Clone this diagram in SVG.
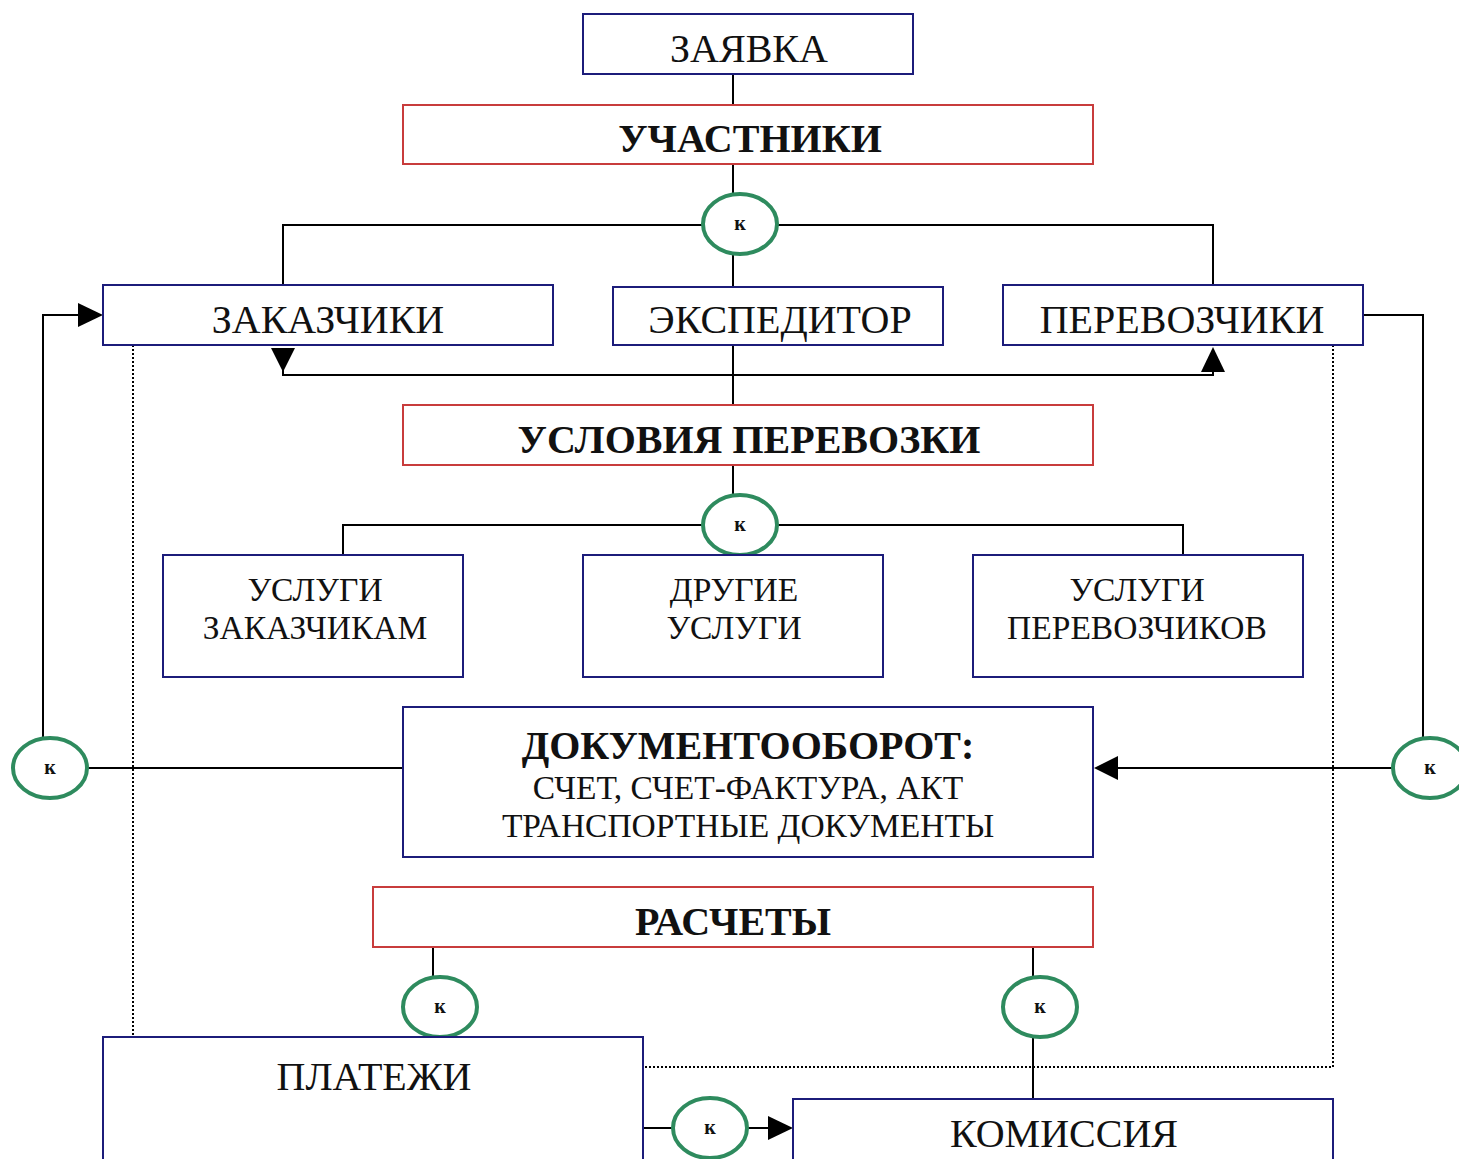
<svg xmlns="http://www.w3.org/2000/svg" width="1459" height="1159" viewBox="0 0 1459 1159">
<style>
.b{fill:#fff;stroke:#1c1c7a;stroke-width:2}
.r{fill:#fff;stroke:#c83c3c;stroke-width:2}
.c{fill:#fff;stroke:#2e8b5e;stroke-width:4}
.l{fill:none;stroke:#000;stroke-width:2}
.d{fill:none;stroke:#000;stroke-width:2;stroke-dasharray:2 2}
.t{font-family:"Liberation Serif",serif;font-size:40px;fill:#111;text-anchor:middle}
.tb{font-family:"Liberation Serif",serif;font-size:40px;font-weight:bold;fill:#111;text-anchor:middle}
.ts{font-family:"Liberation Serif",serif;font-size:33.5px;fill:#111;text-anchor:middle}
.k{font-family:"Liberation Serif",serif;font-size:20px;font-weight:bold;fill:#111;text-anchor:middle}
.a{fill:#000}
</style>
<rect width="1459" height="1159" fill="#fff"/>
<g id="connectors">
<line class="l" x1="733" y1="74" x2="733" y2="105"/>
<line class="l" x1="733" y1="164" x2="733" y2="200"/>
<polyline class="l" points="283,285 283,225 1213,225 1213,285"/>
<line class="l" x1="733" y1="250" x2="733" y2="287"/>
<polyline class="l" points="283,348 283,375 1213,375 1213,350"/>
<polygon class="a" points="271,348 295,348 283,372"/>
<polygon class="a" points="1201,372 1225,372 1213,347"/>
<line class="l" x1="733" y1="345" x2="733" y2="405"/>
<line class="l" x1="733" y1="465" x2="733" y2="500"/>
<polyline class="l" points="343,555 343,525 1183,525 1183,555"/>
<polyline class="l" points="43,738 43,315 78,315"/>
<polygon class="a" points="78,303 103,315 78,327"/>
<line class="l" x1="88" y1="768" x2="403" y2="768"/>
<polyline class="l" points="1363,315 1423,315 1423,738"/>
<line class="l" x1="1392" y1="768" x2="1118" y2="768"/>
<polygon class="a" points="1118,756 1094,768 1118,780"/>
<line class="d" x1="133" y1="345" x2="133" y2="1037"/>
<polyline class="d" points="1333,345 1333,1067 643,1067"/>
<line class="l" x1="433" y1="947" x2="433" y2="977"/>
<line class="l" x1="1033" y1="947" x2="1033" y2="977"/>
<line class="l" x1="1033" y1="1037" x2="1033" y2="1099"/>
<line class="l" x1="643" y1="1128" x2="672" y2="1128"/>
<line class="l" x1="748" y1="1128" x2="770" y2="1128"/>
<polygon class="a" points="768,1116 793,1128 768,1140"/>
</g>
<g id="zayavka"><rect class="b" x="583" y="14" width="330" height="60"/><text class="t" x="749" y="62">ЗАЯВКА</text></g>
<g id="uchastniki"><rect class="r" x="403" y="105" width="690" height="59"/><text class="tb" x="750" y="152">УЧАСТНИКИ</text></g>
<g id="k1"><ellipse class="c" cx="740" cy="224" rx="37" ry="30"/><text class="k" x="740" y="230">к</text></g>
<g id="zakazchiki"><rect class="b" x="103" y="285" width="450" height="60"/><text class="t" x="328" y="333">ЗАКАЗЧИКИ</text></g>
<g id="ekspeditor"><rect class="b" x="613" y="287" width="330" height="58"/><text class="t" x="780" y="333">ЭКСПЕДИТОР</text></g>
<g id="perevozchiki"><rect class="b" x="1003" y="285" width="360" height="60"/><text class="t" x="1182" y="333">ПЕРЕВОЗЧИКИ</text></g>
<g id="usloviya"><rect class="r" x="403" y="405" width="690" height="60"/><text class="tb" x="749" y="453">УСЛОВИЯ ПЕРЕВОЗКИ</text></g>
<g id="k2"><ellipse class="c" cx="740" cy="525" rx="37" ry="30"/><text class="k" x="740" y="531">к</text></g>
<g id="uslugi-zak"><rect class="b" x="163" y="555" width="300" height="122"/><text class="ts" x="315" y="601">УСЛУГИ</text><text class="ts" x="315" y="639">ЗАКАЗЧИКАМ</text></g>
<g id="drugie"><rect class="b" x="583" y="555" width="300" height="122"/><text class="ts" x="734" y="601">ДРУГИЕ</text><text class="ts" x="734" y="639">УСЛУГИ</text></g>
<g id="uslugi-per"><rect class="b" x="973" y="555" width="330" height="122"/><text class="ts" x="1137" y="601">УСЛУГИ</text><text class="ts" x="1137" y="639">ПЕРЕВОЗЧИКОВ</text></g>
<g id="k-left"><ellipse class="c" cx="50" cy="768" rx="37" ry="30"/><text class="k" x="50" y="774">к</text></g>
<g id="k-right"><ellipse class="c" cx="1430" cy="768" rx="37" ry="30"/><text class="k" x="1430" y="774">к</text></g>
<g id="dokumentooborot"><rect class="b" x="403" y="707" width="690" height="150"/><text class="tb" x="748" y="759">ДОКУМЕНТООБОРОТ:</text><text class="ts" x="748" y="799">СЧЕТ, СЧЕТ-ФАКТУРА, АКТ</text><text class="ts" x="748" y="837">ТРАНСПОРТНЫЕ ДОКУМЕНТЫ</text></g>
<g id="raschety"><rect class="r" x="373" y="887" width="720" height="60"/><text class="tb" x="733" y="935">РАСЧЕТЫ</text></g>
<g id="k3"><ellipse class="c" cx="440" cy="1007" rx="37" ry="30"/><text class="k" x="440" y="1013">к</text></g>
<g id="k4"><ellipse class="c" cx="1040" cy="1007" rx="37" ry="30"/><text class="k" x="1040" y="1013">к</text></g>
<g id="platezhi"><rect class="b" x="103" y="1037" width="540" height="130"/><text class="t" x="374" y="1090">ПЛАТЕЖИ</text></g>
<g id="k5"><ellipse class="c" cx="710" cy="1128" rx="37" ry="30"/><text class="k" x="710" y="1134">к</text></g>
<g id="komissiya"><rect class="b" x="793" y="1099" width="540" height="70"/><text class="t" x="1064" y="1147">КОМИССИЯ</text></g>
</svg>
